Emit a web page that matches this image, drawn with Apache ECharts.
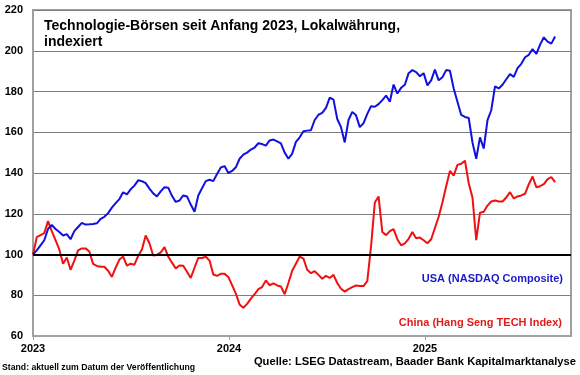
<!DOCTYPE html>
<html>
<head>
<meta charset="utf-8">
<script src="https://cdn.jsdelivr.net/npm/echarts@6/dist/echarts.min.js"></script>
<style>
  html, body { margin: 0; padding: 0; background: #fff; }
  #chart { width: 580px; height: 375px; }
</style>
</head>
<body>
<div id="chart"></div>
<script>
// Wochenwerte ab Anfang 2023, indexiert (Start = 100)
const startDate = "2023-01-01";
const yearTicks = [2023, 2024, 2025];

const usa = [
  100, 102, 104.5, 107, 112.5, 114.5, 112.5, 111, 109.3, 110,
  107.5, 111.5, 113.5, 115.5, 114.7, 114.8, 115, 115.3, 117.5, 118.5,
  120.3, 123, 125.2, 127.2, 130.5, 129.5, 132, 133.8, 136.4, 136,
  135, 132.3, 130, 128.5, 131, 133, 132.8, 128.8, 125.8, 126.5,
  129, 128.5, 124.5, 121, 129, 132.5, 136, 136.7, 136, 139.5,
  142.7, 143.4, 140, 141, 142.8, 147, 149, 150, 151.5, 152.5,
  154.6, 154.2, 153.4, 156, 156.4, 155.5, 154.5, 150, 147, 149.5,
  155.3, 157.5, 160.5, 160.8, 161, 166, 168.6, 169.5, 172, 177,
  176, 166.5, 162.5, 155, 166, 170, 168.3, 162.5, 164.5, 169,
  172.8, 172.5, 173.8, 175.8, 178, 175, 183.4, 179, 181.8, 183.3,
  189, 190.5, 189.5, 187.5, 189, 183, 185.5, 190.7, 185.5, 187,
  190.5, 190.2, 181.5, 175, 168.5, 167.5, 167, 155, 147, 157.5,
  152, 166, 170.8, 182.5, 181.5, 183.3, 186, 188.5, 187.2, 191.5,
  193.6, 196.8, 198, 200.8, 198.4, 203, 206.6, 204.5, 203.5, 207
];

const china = [
  100, 108.5, 109.5, 110.5, 116.4, 111.5, 107, 102.5, 95.5, 98.5,
  92.5, 97, 102, 103, 103, 101.5, 95.4, 94.4, 94, 94,
  92, 89, 93.5, 97.5, 99, 94.5, 95.5, 95, 99.3, 102.5,
  109.3, 105.5, 99.5, 99.8, 101, 103.6, 99, 96, 93.2, 94.6,
  94.5, 91.5, 88.5, 93.5, 98.3, 98.3, 98.9, 97, 90.2, 89.5,
  90.5, 90.5, 89, 85, 80.8, 75.5, 73.8, 75.8, 78.3, 80.5,
  83, 84, 87.3, 84.9, 85.8, 84.8, 84.3, 80.5, 86, 92,
  95.5, 99, 98, 92.5, 90.8, 91.8, 90, 88.1, 89.5, 88.5,
  90, 86, 83.2, 81.8, 83, 84, 84.8, 84.5, 84.5, 87,
  104, 125.5, 128.5, 111, 109.5, 111.5, 112.5, 107.5, 104.5, 105.5,
  107.7, 111, 108, 108.3, 107, 105.5, 107.5, 113, 118.5, 125.5,
  133.5, 141, 138.7, 144, 144.5, 146, 135, 128, 107, 120.5,
  121, 124, 126, 126.5, 126, 126, 128, 130.6, 127.5, 128.5,
  129, 129.8, 134.5, 138.3, 133, 133.5, 134.5, 137, 138, 135.5
];

// Woche i -> Jahr als Dezimalzahl
const xs = usa.map((_, i) => 2023 + (i * 7) / 365.25);

const FONT = "Liberation Sans, Arial, sans-serif";

let myChart = echarts.init(document.getElementById("chart"));
let option = {
  animation: false,
  backgroundColor: "#fff",
  title: {
    text: "Technologie-Börsen seit Anfang 2023, Lokalwährung,\nindexiert",
    left: 39,
    top: 13,
    textStyle: {
      fontFamily: FONT,
      fontSize: 14,
      fontWeight: "bold",
      color: "#000",
      lineHeight: 16
    }
  },
  grid: {
    left: 33,
    right: 9,
    top: 10,
    bottom: 39,
    show: true,
    borderColor: "#a0a0a0",
    borderWidth: 2
  },
  xAxis: {
    type: "value",
    min: 2023,
    max: 2025.745,
    interval: 1,
    axisLine: { show: true, lineStyle: { color: "#a0a0a0", width: 2 } },
    axisTick: { show: true, length: 4, lineStyle: { color: "#a0a0a0" } },
    splitLine: { show: false },
    axisLabel: {
      showMaxLabel: false,
      margin: 7,
      fontFamily: FONT,
      fontSize: 11,
      fontWeight: "bold",
      color: "#000",
      formatter: (v) => (yearTicks.includes(v) ? String(v) : "")
    }
  },
  yAxis: {
    type: "value",
    min: 60,
    max: 220,
    interval: 20,
    axisLine: { show: true, lineStyle: { color: "#a0a0a0", width: 2 } },
    axisTick: { show: false },
    splitLine: { show: true, lineStyle: { color: "#7f7f7f", width: 1 } },
    axisLabel: {
      margin: 10,
      fontFamily: FONT,
      fontSize: 11,
      fontWeight: "bold",
      color: "#000"
    }
  },
  series: [
    {
      name: "China (Hang Seng TECH Index)",
      type: "line",
      showSymbol: false,
      data: xs.map((x, i) => [x, china[i]]),
      lineStyle: { color: "#f01010", width: 2 },
      itemStyle: { color: "#f01010" },
      markLine: {
        silent: true,
        symbol: "none",
        label: { show: false },
        lineStyle: { color: "#000", width: 2, type: "solid" },
        data: [{ yAxis: 100 }]
      }
    },
    {
      name: "USA (NASDAQ Composite)",
      type: "line",
      showSymbol: false,
      data: xs.map((x, i) => [x, usa[i]]),
      lineStyle: { color: "#1010e0", width: 2 },
      itemStyle: { color: "#1010e0" }
    }
  ],
  graphic: [
    {
      type: "text",
      right: 17,
      top: 273,
      style: {
        text: "USA (NASDAQ Composite)",
        fill: "#1a1acc",
        font: "bold 11px " + FONT
      }
    },
    {
      type: "text",
      right: 18,
      top: 317,
      style: {
        text: "China (Hang Seng TECH Index)",
        fill: "#e31b1b",
        font: "bold 11px " + FONT
      }
    },
    {
      type: "text",
      left: 2,
      top: 363,
      style: {
        text: "Stand: aktuell zum Datum der Veröffentlichung",
        fill: "#000",
        font: "bold 8.7px " + FONT
      }
    },
    {
      type: "text",
      right: 4,
      top: 356,
      style: {
        text: "Quelle: LSEG Datastream, Baader Bank Kapitalmarktanalyse",
        fill: "#000",
        font: "bold 11.2px " + FONT
      }
    }
  ]
};
myChart.setOption(option);
</script>
</body>
</html>
